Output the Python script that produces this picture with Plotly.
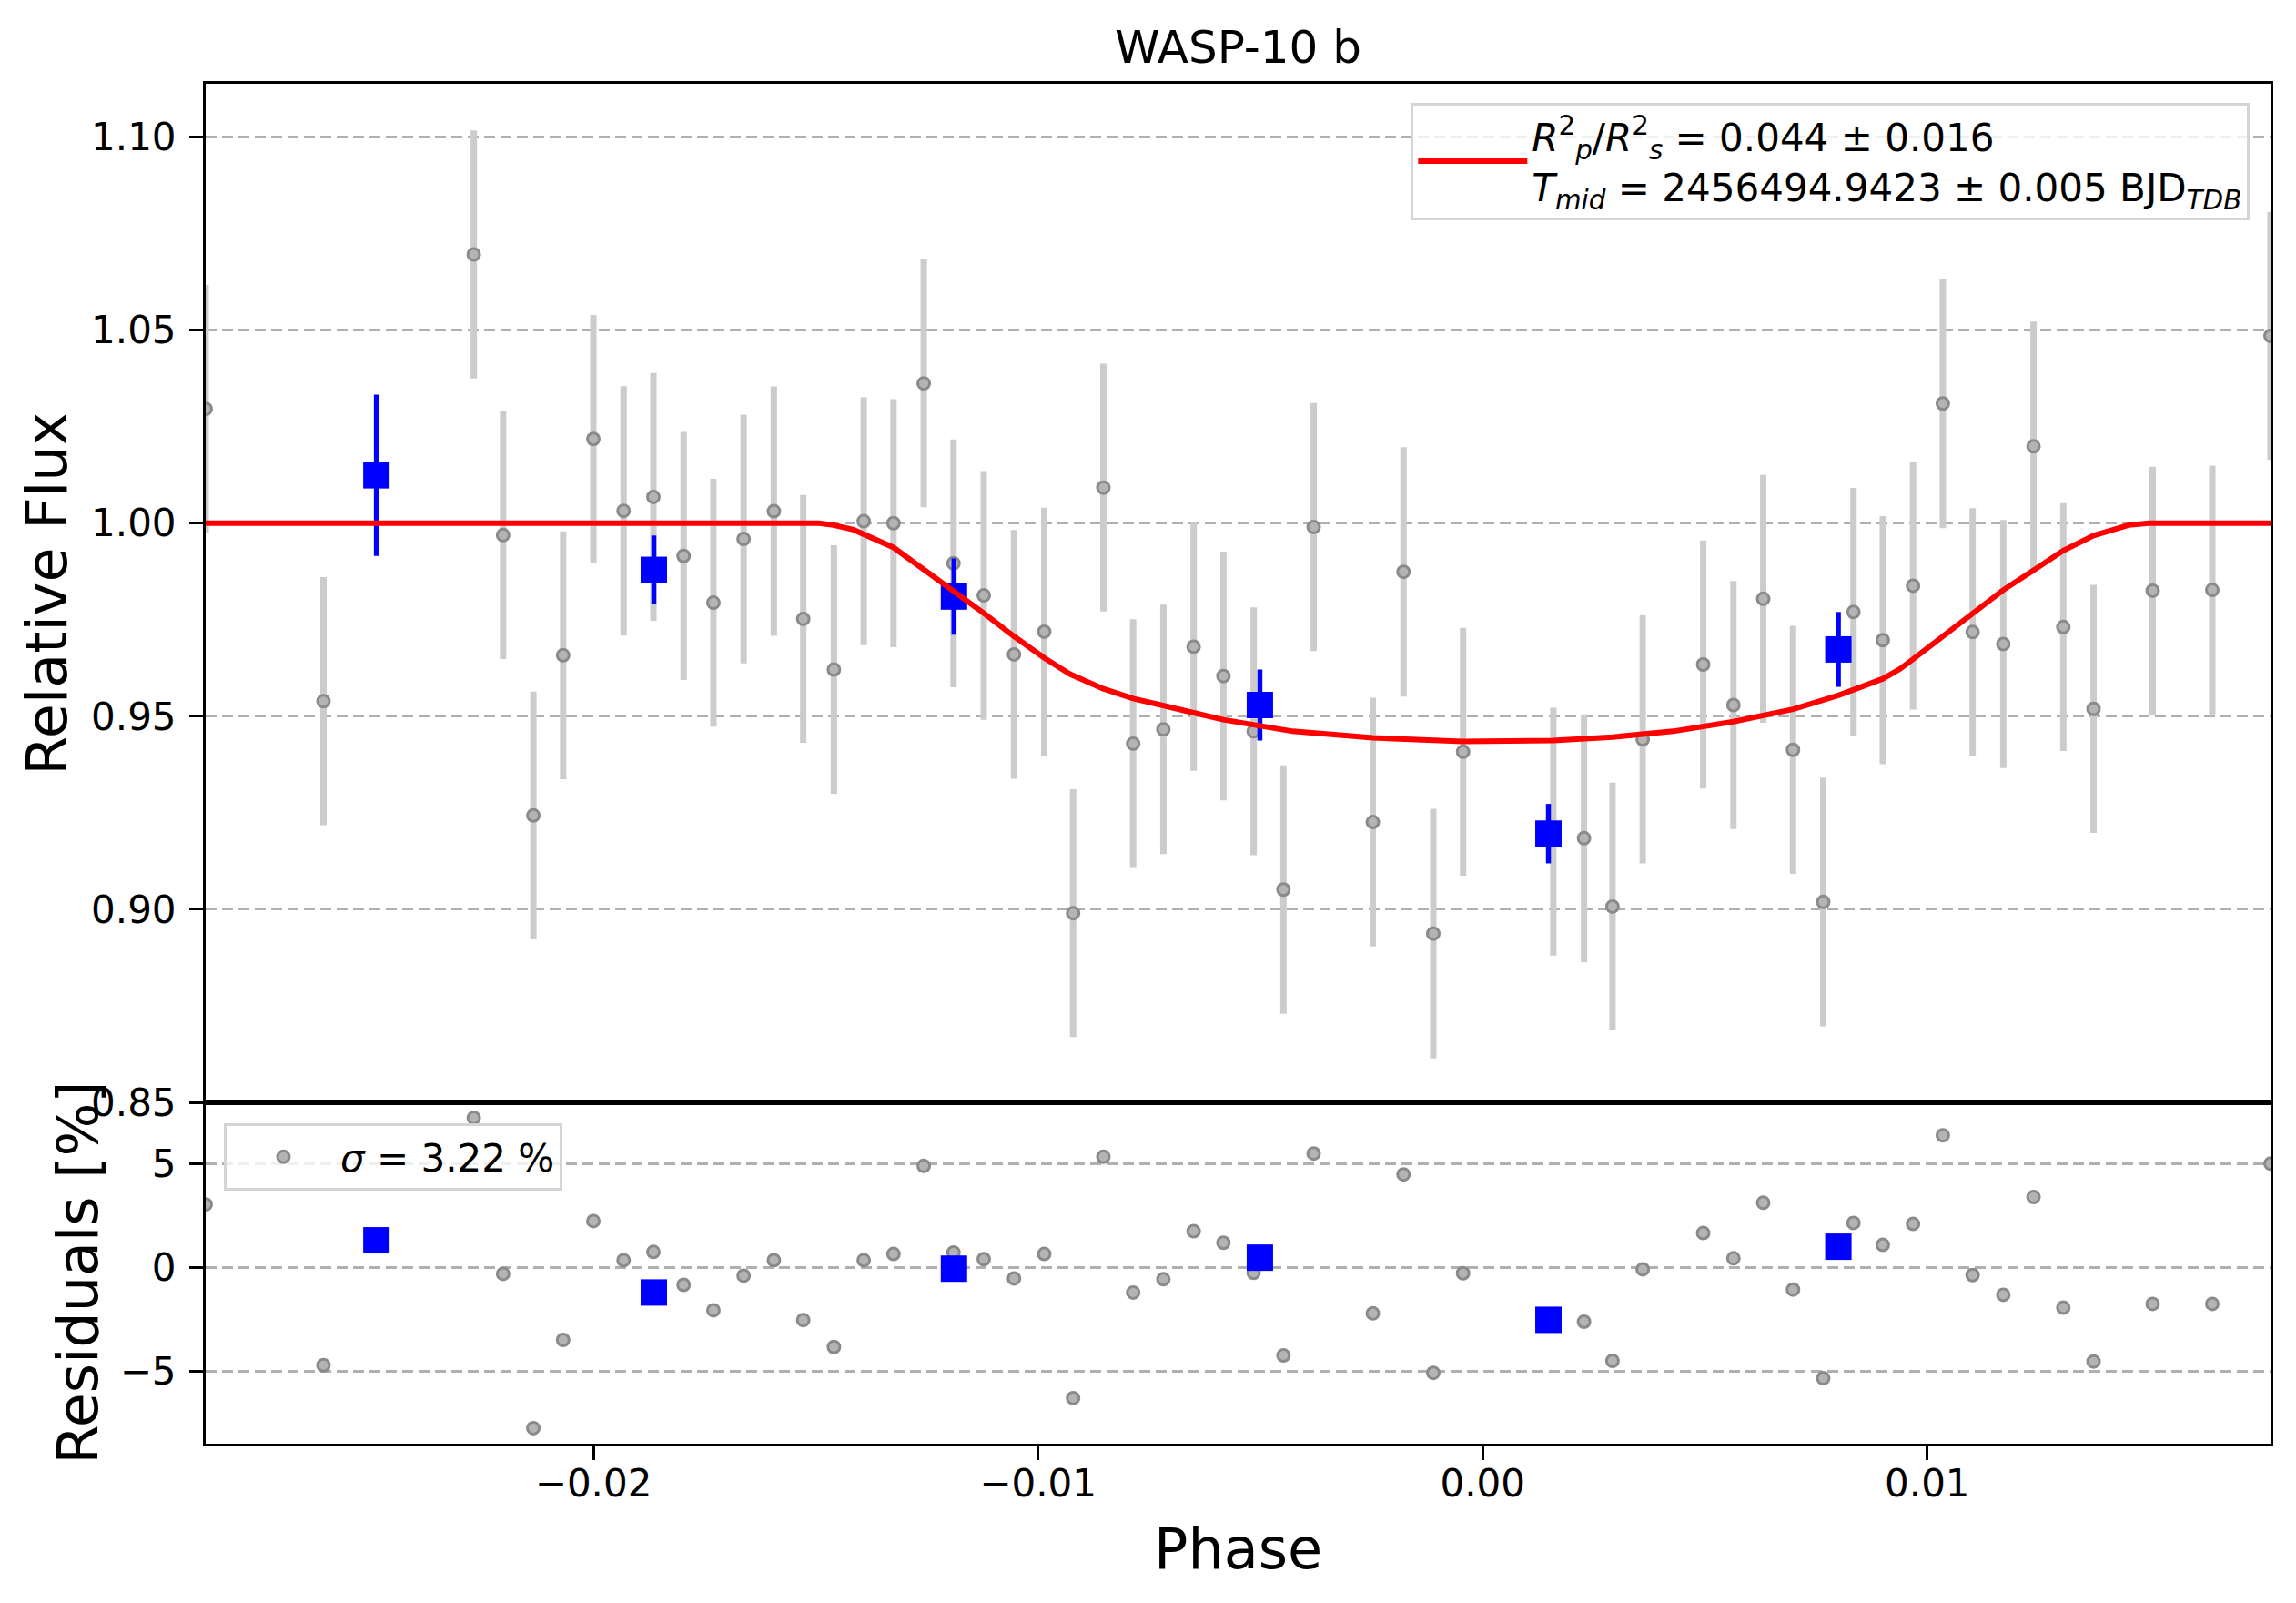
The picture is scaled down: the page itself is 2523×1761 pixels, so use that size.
import plotly.graph_objects as go

''' Data read off the light curve '''
## unbinned points (phase, relative flux, error)
phase = [-0.02872, -0.02607, -0.02269, -0.02203, -0.02135, -0.02068, -0.02000, -0.01932,
         -0.01865, -0.01797, -0.01730, -0.01662, -0.01594, -0.01528, -0.01459, -0.01392,
         -0.01325, -0.01257, -0.01190, -0.01122, -0.01054, -0.00986, -0.00921, -0.00853,
         -0.00786, -0.00718, -0.00650, -0.00583, -0.00515, -0.00448, -0.00380, -0.00247,
         -0.00178, -0.00111, -0.00044, 0.00159, 0.00228, 0.00292, 0.00360, 0.00496,
         0.00564, 0.00631, 0.00698, 0.00766, 0.00834, 0.00900, 0.00968, 0.01035,
         0.01102, 0.01171, 0.01239, 0.01306, 0.01374, 0.01507, 0.01641, 0.01772]
flux = [1.0296, 0.9539, 1.0696, 0.9969, 0.9243, 0.9658, 1.0218, 1.0032,
        1.0068, 0.9915, 0.9794, 0.9959, 1.0031, 0.9752, 0.9621, 1.0005,
        1.0000, 1.0362, 0.9896, 0.9813, 0.9660, 0.9719, 0.8990, 1.0092,
        0.9429, 0.9466, 0.9680, 0.9604, 0.9461, 0.9051, 0.9990, 0.9226,
        0.9874, 0.8937, 0.9408, 0.9201, 0.9184, 0.9007, 0.9440, 0.9634,
        0.9529, 0.9804, 0.9413, 0.9019, 0.9770, 0.9697, 0.9838, 1.0310,
        0.9718, 0.9687, 1.0199, 0.9731, 0.9519, 0.9825, 0.9827, 1.0485]
flux_err = [0.0321, 0.0321, 0.0321, 0.0321, 0.0321, 0.0321, 0.0321, 0.0323,
            0.0321, 0.0321, 0.0321, 0.0322, 0.0323, 0.0321, 0.0322, 0.0321,
            0.0321, 0.0321, 0.0321, 0.0322, 0.0322, 0.0321, 0.0321, 0.0321,
            0.0322, 0.0323, 0.0321, 0.0322, 0.0321, 0.0322, 0.0321, 0.0322,
            0.0323, 0.0323, 0.0321, 0.0321, 0.0321, 0.0321, 0.0321, 0.0321,
            0.0321, 0.0321, 0.0321, 0.0322, 0.0321, 0.0321, 0.0321, 0.0323,
            0.0321, 0.0321, 0.0323, 0.0321, 0.0321, 0.0321, 0.0322, 0.0321]
## residuals in percent
resid = [3.04, -4.72, 7.22, -0.31, -7.76, -3.50, 2.24, 0.35,
         0.75, -0.84, -2.07, -0.40, 0.35, -2.54, -3.84, 0.35,
         0.65, 4.90, 0.72, 0.40, -0.53, 0.65, -6.31, 5.34,
         -1.21, -0.57, 1.75, 1.19, -0.26, -4.25, 5.50, -2.22,
         4.49, -5.09, -0.28, -2.40, -2.62, -4.51, -0.09, 1.66,
         0.44, 3.12, -1.07, -5.35, 2.15, 1.09, 2.10, 6.38,
         -0.37, -1.32, 3.40, -1.94, -4.54, -1.76, -1.76, 5.01]

## binned points
bin_phase = [-0.02488, -0.01864, -0.01189, -0.00501, 0.00148, 0.00800]
bin_flux = [1.0124, 0.9879, 0.9810, 0.9529, 0.9196, 0.9673]
bin_err = [0.0209, 0.0089, 0.0099, 0.0092, 0.0077, 0.0097]
bin_resid = [1.31, -1.21, -0.06, 0.47, -2.53, 1.00]

## transit model curve
model_phase = [-0.02872, -0.01492, -0.01460, -0.01415, -0.01325, -0.01253, -0.01190, -0.01122,
               -0.01054, -0.00986, -0.00928, -0.00853, -0.00786, -0.00718, -0.00650, -0.00583,
               -0.00515, -0.00427, -0.00247, -0.00044, 0.00159, 0.00292, 0.00428, 0.00564,
               0.00698, 0.00800, 0.00900, 0.00938, 0.00968, 0.01035, 0.01102, 0.01171,
               0.01239, 0.01306, 0.01374, 0.01453, 0.01498, 0.01772]
model_flux = [1.0000, 1.0000, 0.9995, 0.9983, 0.9937, 0.9878, 0.9827, 0.9767,
              0.9707, 0.9651, 0.9609, 0.9571, 0.9546, 0.9526, 0.9509, 0.9491,
              0.9478, 0.9461, 0.9444, 0.9435, 0.9437, 0.9446, 0.9461, 0.9486,
              0.9518, 0.9554, 0.9597, 0.9622, 0.9648, 0.9707, 0.9767, 0.9827,
              0.9878, 0.9929, 0.9968, 0.9995, 1.0000, 1.0000]

flux_ticks = [0.85, 0.90, 0.95, 1.00, 1.05, 1.10]
resid_ticks = [-5, 0, 5]
phase_ticks = [-0.02, -0.01, 0.00, 0.01]

''' Styling '''
FONT = 'DejaVu Sans'
GRAY_FILL = '#b4b4b4'
GRAY_EDGE = '#8a8a8a'
ERR_GRAY = '#cccccc'
GRID = dict(showgrid=True, gridcolor='#b0b0b0', gridwidth=3, griddash='12px,6px')
FRAME = dict(showline=True, linecolor='black', linewidth=3, mirror=True, zeroline=False)

fig = go.Figure()

## top panel
fig.add_trace(go.Scatter(x=phase, y=flux, mode='markers', xaxis='x', yaxis='y',
                         marker=dict(size=13, color=GRAY_FILL, line=dict(color=GRAY_EDGE, width=3)),
                         error_y=dict(type='data', array=flux_err, color=ERR_GRAY, thickness=7, width=0),
                         showlegend=False))
fig.add_trace(go.Scatter(x=bin_phase, y=bin_flux, mode='markers', xaxis='x', yaxis='y',
                         marker=dict(size=29, symbol='square', color='blue'),
                         error_y=dict(type='data', array=bin_err, color='blue', thickness=5.5, width=0),
                         showlegend=False))
fig.add_trace(go.Scatter(x=model_phase, y=model_flux, mode='lines', xaxis='x', yaxis='y',
                         line=dict(color='red', width=6), legend='legend',
                         name='<i>R</i><sup>2</sup><sub><i>p</i></sub>/<i>R</i><sup>2</sup><sub><i>s</i></sub> = 0.044 ± 0.016'
                              '<br><i>T<sub>mid</sub></i> = 2456494.9423 ± 0.005 BJD<sub><i>TDB</i></sub>'))

## residual panel
fig.add_trace(go.Scatter(x=phase, y=resid, mode='markers', xaxis='x2', yaxis='y2',
                         marker=dict(size=13, color=GRAY_FILL, line=dict(color=GRAY_EDGE, width=3)),
                         name='<i>σ</i> = 3.22 %', legend='legend2'))
fig.add_trace(go.Scatter(x=bin_phase, y=bin_resid, mode='markers', xaxis='x2', yaxis='y2',
                         marker=dict(size=29, symbol='square', color='blue'),
                         showlegend=False))

split = 375 / 1494
xr = [phase[0], phase[-1]]

## page body adds an 8px offset, so the figure is drawn 8px smaller
fig.update_layout(
    width=2515, height=1753, template='none',
    paper_bgcolor='white', plot_bgcolor='white',
    margin=dict(l=218, r=28, t=84, b=175),
    font=dict(family=FONT, size=42, color='black'),
    title=dict(text='WASP-10 b', x=0.5, xref='paper', y=1 - 43 / 1753, yref='container',
               xanchor='center', yanchor='middle', font=dict(size=50, color='black')),
    xaxis=dict(domain=[0, 1], anchor='y', range=xr, showticklabels=False, ticks='',
               showgrid=False, matches='x2', **FRAME),
    xaxis2=dict(domain=[0, 1], anchor='y2', range=xr, tickvals=phase_ticks,
                ticktext=['−0.02', '−0.01', '0.00', '0.01'], ticks='outside',
                ticklen=15, tickwidth=3, tickcolor='black', ticklabelstandoff=-10,
                showgrid=False, **FRAME),
    yaxis=dict(domain=[split, 1], anchor='x', range=[0.85, 1.1138], tickvals=flux_ticks,
               ticktext=['%.2f' % v for v in flux_ticks], ticks='outside', ticklen=15,
               tickwidth=3, tickcolor='black', ticklabelstandoff=6, **GRID, **FRAME),
    yaxis2=dict(domain=[0, split], anchor='x2', range=[-8.51, 7.97], tickvals=resid_ticks,
                ticktext=['−5', '0', '5'], ticks='outside', ticklen=15, tickwidth=3,
                tickcolor='black', ticklabelstandoff=6, **GRID, **FRAME),
    legend=dict(x=0.990, y=0.986, xanchor='right', yanchor='top', xref='paper', yref='paper',
                bgcolor='rgba(255,255,255,0.8)', bordercolor='#d5d5d5', borderwidth=3,
                font=dict(size=42), valign='middle', itemwidth=120),
    legend2=dict(x=0.0088, y=0.2356, xanchor='left', yanchor='top', xref='paper', yref='paper',
                 bgcolor='rgba(255,255,255,0.8)', bordercolor='#d5d5d5', borderwidth=3,
                 font=dict(size=42), itemwidth=115),
    annotations=[
        dict(text='Relative Flux', x=-0.0767, y=(1586 - 651.5) / 1494, xref='paper', yref='paper',
             textangle=-90, showarrow=False, xanchor='center', yanchor='middle', font=dict(size=62)),
        dict(text='Residuals [%]', x=-0.0621, y=split / 2, xref='paper', yref='paper',
             textangle=-90, showarrow=False, xanchor='center', yanchor='middle', font=dict(size=62)),
        dict(text='Phase', x=0.5, y=-0.0776, xref='paper', yref='paper',
             showarrow=False, xanchor='center', yanchor='middle', font=dict(size=62)),
    ],
)

fig.write_html("out.html")
